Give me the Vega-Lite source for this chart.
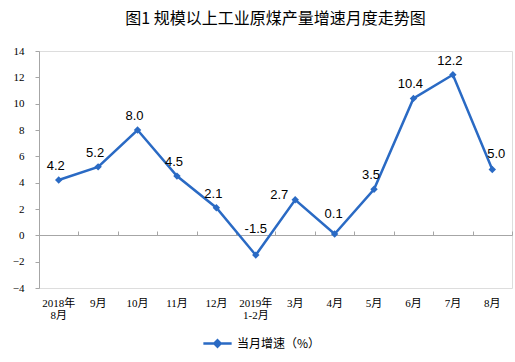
{
  "$schema": "https://vega.github.io/schema/vega-lite/v6.json",
  "width": 473,
  "height": 237,
  "autosize": "none",
  "padding": {"left": 39, "top": 51, "right": 3, "bottom": 74},
  "background": "white",
  "title": {
    "text": "图1  规模以上工业原煤产量增速月度走势图",
    "anchor": "middle",
    "frame": "group",
    "font": "Noto Sans CJK SC",
    "fontSize": 16,
    "fontWeight": "normal",
    "color": "#000000",
    "offset": 18
  },
  "data": {
    "values": [
      {"month": "2018年\n8月", "value": 4.2, "label": "4.2", "series": "当月增速（%）"},
      {"month": "9月", "value": 5.2, "label": "5.2", "series": "当月增速（%）"},
      {"month": "10月", "value": 8.0, "label": "8.0", "series": "当月增速（%）"},
      {"month": "11月", "value": 4.5, "label": "4.5", "series": "当月增速（%）"},
      {"month": "12月", "value": 2.1, "label": "2.1", "series": "当月增速（%）"},
      {"month": "2019年\n1-2月", "value": -1.5, "label": "-1.5", "series": "当月增速（%）"},
      {"month": "3月", "value": 2.7, "label": "2.7", "series": "当月增速（%）"},
      {"month": "4月", "value": 0.1, "label": "0.1", "series": "当月增速（%）"},
      {"month": "5月", "value": 3.5, "label": "3.5", "series": "当月增速（%）"},
      {"month": "6月", "value": 10.4, "label": "10.4", "series": "当月增速（%）"},
      {"month": "7月", "value": 12.2, "label": "12.2", "series": "当月增速（%）"},
      {"month": "8月", "value": 5.0, "label": "5.0", "series": "当月增速（%）"}
    ]
  },
  "encoding": {
    "x": {
      "field": "month", "type": "nominal", "sort": null,
      "scale": {"type": "band", "paddingInner": 0, "paddingOuter": 0}
    },
    "y": {
      "field": "value", "type": "quantitative",
      "scale": {"domain": [-4, 14], "nice": false, "zero": false},
      "axis": {
        "title": null, "grid": false, "values": [-4, -2, 0, 2, 4, 6, 8, 10, 12, 14],
        "labelOverlap": false,
        "domainColor": "#A6A6A6", "tickColor": "#A6A6A6", "tickSize": 4,
        "labelFont": "Liberation Serif", "labelFontSize": 11, "labelColor": "#000000",
        "labelPadding": 11
      }
    }
  },
  "resolve": {"axis": {"x": "independent"}},
  "layer": [
    {
      "mark": {"type": "line", "strokeWidth": 2.5, "point": {"shape": "diamond", "filled": true, "size": 55}},
      "encoding": {
        "x": {
          "field": "month", "type": "nominal", "sort": null,
          "scale": {"type": "band", "paddingInner": 0, "paddingOuter": 0},
          "axis": {
            "orient": "bottom", "title": null, "domain": false, "ticks": false,
            "labelAngle": 0, "labelExpr": "split(datum.label, '\\n')",
            "labelFont": "Liberation Serif, Noto Sans CJK SC", "labelFontSize": 11,
            "labelColor": "#000000", "labelPadding": 9, "labelLineHeight": 12
          }
        },
        "color": {
          "field": "series", "type": "nominal",
          "scale": {"range": ["#2A6AC4"]},
          "legend": {
            "title": null, "orient": "none", "legendX": 163, "legendY": 277,
            "symbolType": "M-1,0H1M-0.22,0L0,-0.22L0.22,0L0,0.22Z",
            "symbolSize": 800, "symbolStrokeWidth": 2.5,
            "symbolFillColor": "#2A6AC4", "symbolStrokeColor": "#2A6AC4",
            "labelFont": "Noto Sans CJK SC", "labelFontSize": 12, "labelColor": "#000000",
            "labelOffset": 4
          }
        }
      }
    },
    {
      "transform": [{"filter": "indexof(['-1.5','2.7','0.1','5.0'], datum.label) < 0"}],
      "mark": {"type": "text", "dx": -3, "dy": -14, "font": "Liberation Sans", "fontSize": 13, "color": "#000000"},
      "encoding": {
        "x": {
          "field": "month", "type": "nominal", "sort": null,
          "scale": {"type": "band", "paddingInner": 0, "paddingOuter": 0},
          "axis": {
            "orient": "top", "offset": -184, "title": null, "labels": false,
            "domainColor": "#A6A6A6", "tickColor": "#A6A6A6", "tickSize": 4,
            "tickBand": "extent"
          }
        },
        "text": {"field": "label", "type": "nominal"}
      }
    },
    {
      "transform": [{"filter": "datum.label == '-1.5'"}],
      "mark": {"type": "text", "dx": 0, "dy": -26, "font": "Liberation Sans", "fontSize": 13, "color": "#000000"},
      "encoding": {
        "x": {"field": "month", "type": "nominal", "sort": null, "axis": null},
        "text": {"field": "label", "type": "nominal"}
      }
    },
    {
      "transform": [{"filter": "datum.label == '2.7'"}],
      "mark": {"type": "text", "dx": -16, "dy": -5, "font": "Liberation Sans", "fontSize": 13, "color": "#000000"},
      "encoding": {
        "x": {"field": "month", "type": "nominal", "sort": null, "axis": null},
        "text": {"field": "label", "type": "nominal"}
      }
    },
    {
      "transform": [{"filter": "datum.label == '0.1'"}],
      "mark": {"type": "text", "dx": -1, "dy": -20, "font": "Liberation Sans", "fontSize": 13, "color": "#000000"},
      "encoding": {
        "x": {"field": "month", "type": "nominal", "sort": null, "axis": null},
        "text": {"field": "label", "type": "nominal"}
      }
    },
    {
      "transform": [{"filter": "datum.label == '5.0'"}],
      "mark": {"type": "text", "dx": 4, "dy": -16, "font": "Liberation Sans", "fontSize": 13, "color": "#000000"},
      "encoding": {
        "x": {"field": "month", "type": "nominal", "sort": null, "axis": null},
        "text": {"field": "label", "type": "nominal"}
      }
    }
  ]
}
